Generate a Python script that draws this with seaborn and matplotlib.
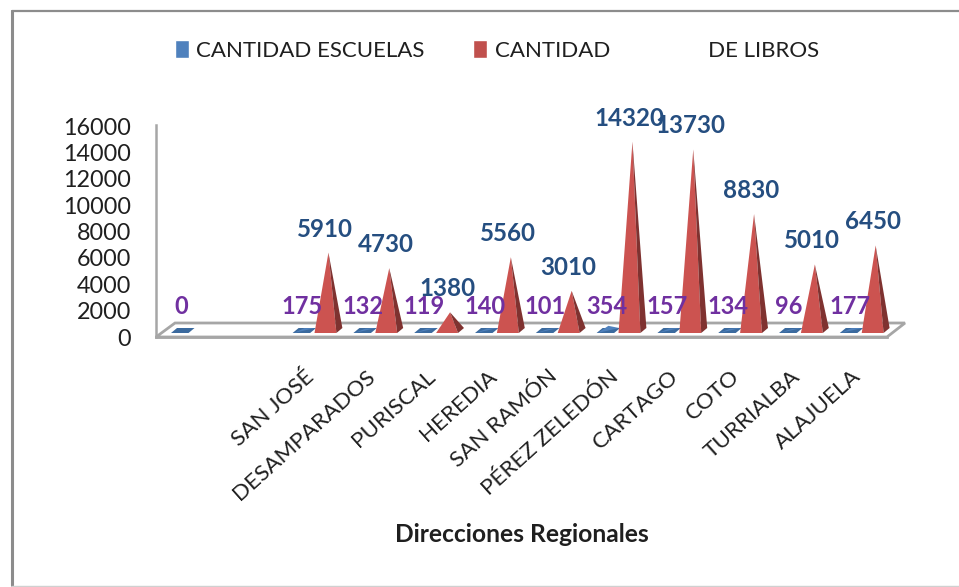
import matplotlib
matplotlib.use("Agg")
import matplotlib.pyplot as plt
import pandas as pd
import seaborn as sns
from matplotlib.lines import Line2D
from matplotlib.transforms import ScaledTranslation

regiones = ["", " ", "SAN JOSÉ", "DESAMPARADOS", "PURISCAL", "HEREDIA", "SAN RAMÓN",
            "PÉREZ ZELEDÓN", "CARTAGO", "COTO", "TURRIALBA", "ALAJUELA"]
escuelas = [0, None, 175, 132, 119, 140, 101, 354, 157, 134, 96, 177]
libros = [None, None, 5910, 4730, 1380, 5560, 3010, 14320, 13730, 8830, 5010, 6450]
y_ticks = [0, 2000, 4000, 6000, 8000, 10000, 12000, 14000, 16000]
serie_a = "CANTIDAD ESCUELAS"
serie_b = "CANTIDAD                 DE LIBROS"
x_title = "Direcciones Regionales"

W, H = 959, 587
sns.set_theme(style="white")
plt.rcParams["font.family"] = ["Lato", "DejaVu Sans"]

fig = plt.figure(figsize=(W / 100, H / 100), dpi=100)
L, R, T, B = 156, 887, 125, 337
ax = fig.add_axes([L / W, 1 - B / H, (R - L) / W, (B - T) / H])

df = pd.DataFrame({
    "region": regiones * 2,
    "serie": [serie_a] * len(regiones) + [serie_b] * len(regiones),
    "valor": escuelas + libros,
})
sns.barplot(data=df, x="region", y="valor", hue="serie", order=regiones,
            hue_order=[serie_a, serie_b], palette=["#4F81BD", "#C0504D"],
            width=0.72, ax=ax, errorbar=None, saturation=1)

xlim = (-0.607, 11.416)
ylim = (0, 16076)
ax.set_xlim(*xlim)
ax.set_ylim(*ylim)
ux = (xlim[1] - xlim[0]) / (R - L)
uy = (ylim[1] - ylim[0]) / (B - T)

leg_handles, leg_labels = ax.get_legend_handles_labels()
if ax.get_legend():
    ax.get_legend().remove()
fig.legend(leg_handles, leg_labels, loc="center left", bbox_to_anchor=(174.5 / W, 1 - 50.5 / H),
           ncol=2, frameon=False, fontsize=16, handlelength=0.63, handleheight=0.85,
           handletextpad=0.36, columnspacing=2.15, labelcolor="#1F1F1F", borderpad=0, borderaxespad=0)

# floor of the pseudo-3D plot, in data units with pixel depth
GRAY = "#A6A6A6"
ax.fill([xlim[0], xlim[0] + 19 * ux, xlim[1] + 18 * ux, xlim[1]],
        [0, 14 * uy, 14 * uy, 0], facecolor="white", edgecolor=GRAY, lw=2.0,
        clip_on=False, zorder=1)

FRONT_UP, BACK_UP, CENTER_UP, SHIFT = 4, 9, 6.5, 6


def polygon(points, color, z):
    ax.fill([p[0] for p in points], [p[1] for p in points], color=color, lw=0, zorder=z, clip_on=False)


# seaborn draws no bar for a missing value, so only present values pair with bars
valores_a = [v for v in escuelas if v is not None]
valores_b = [v for v in libros if v is not None]

for bar, val in zip(ax.containers[0], valores_a):
    x0, w = bar.get_x(), bar.get_width()
    x1 = x0 + w * 0.8
    y0 = FRONT_UP * uy
    y1 = BACK_UP * uy
    s = SHIFT * ux
    polygon([(x0, y0), (x1, y0), (x1 + s, y1), (x0 + s, y1)], "#3B6A9E", 3)
    polygon([(x0 + 1 * ux, y0), ((x0 + x1) / 2 + s / 2, CENTER_UP * uy + val), (x1 + s - 1 * ux, y1)], "#4F81BD", 3)
    bar.set_visible(False)
    ax.annotate(f"{val}", ((x0 + x1) / 2 + 1 * ux, 0), xytext=(0, 31), textcoords="offset pixels",
                ha="center", va="center", color="#7030A0", fontsize=17, fontweight="bold", zorder=6)

for bar, val in zip(ax.containers[1], valores_b):
    x0, w = bar.get_x(), bar.get_width()
    x1 = x0 + w
    y0 = FRONT_UP * uy
    apex = ((x0 + x1) / 2 + 3 * ux, CENTER_UP * uy + val)
    polygon([(x0, y0), (x1, y0), apex], "#CC5350", 4)
    polygon([(x1, y0), (x1 + SHIFT * ux, BACK_UP * uy), apex], "#7F3230", 4)
    bar.set_visible(False)
    ax.annotate(f"{val}", ((x0 + x1) / 2, val), xytext=(0, 30), textcoords="offset pixels",
                ha="center", va="center", color="#254E80", fontsize=17.4, fontweight="bold", zorder=7)

sns.despine(ax=ax, top=True, right=True)
ax.spines["left"].set_color(GRAY)
ax.spines["left"].set_linewidth(1.8)
ax.spines["bottom"].set_color(GRAY)
ax.spines["bottom"].set_linewidth(2.0)
ax.set_yticks(y_ticks)
ax.tick_params(axis="y", length=0, pad=18, labelsize=16.8, labelcolor="#1F1F1F")
ax.tick_params(axis="x", length=0, pad=21, labelsize=16.2, labelcolor="#1F1F1F")
ax.set_xticks(range(len(regiones)))
ax.set_xticklabels(regiones, rotation=42, ha="right", rotation_mode="anchor")
shift_left = ScaledTranslation(-10 / 100, 0, fig.dpi_scale_trans)
for label in ax.get_xticklabels():
    label.set_transform(label.get_transform() + shift_left)
ax.set_ylabel("")
ax.set_xlabel("")
fig.text(522 / W, 1 - 535 / H, x_title, ha="center", va="center", fontsize=17.7,
         fontweight="bold", color="#1F1F1F")

# outer frame: heavy left and top edges, faint bottom edge
frame = [((11.5, 11.5), (585, 10.5), "#8C8C8C", 2.2),
         ((11.5, 959), (10.5, 10.5), "#8C8C8C", 1.6),
         ((11.5, 959), (586, 586), "#D0D0D0", 1.0)]
for xs, ys, col, lw in frame:
    fig.add_artist(Line2D([x / W for x in xs], [1 - y / H for y in ys], color=col, lw=lw,
                          transform=fig.transFigure))
fig.savefig("out.png", dpi=100)
